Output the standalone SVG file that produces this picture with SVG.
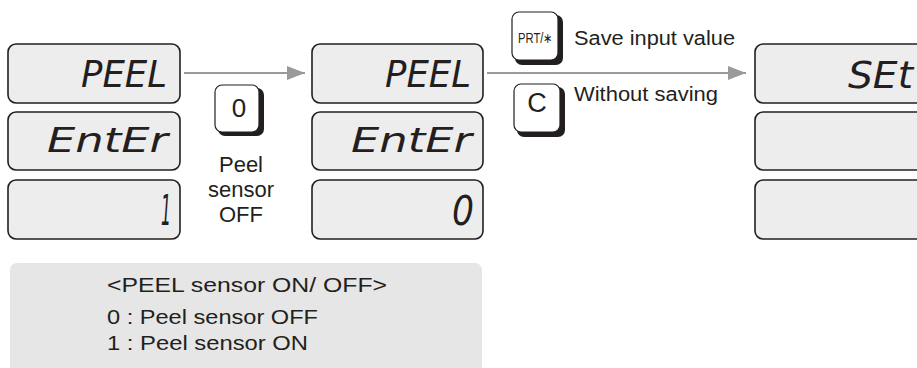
<svg xmlns="http://www.w3.org/2000/svg" width="917" height="368" viewBox="0 0 917 368">
<defs>
<marker id="ah" viewBox="0 0 18 14" refX="18" refY="7" markerWidth="18" markerHeight="14" markerUnits="userSpaceOnUse" orient="auto">
<path d="M0,0 L18,7 L0,14 Z" fill="#9a9a9a"/>
</marker>
</defs>
<style>
.lcd{fill:#ededed;stroke:#231f20;stroke-width:1.6}
.seg{font-family:"DejaVu Sans","Liberation Sans",sans-serif;font-style:oblique;font-weight:200;fill:#231f20;text-anchor:end}
.key{fill:#fff;stroke:#231f20;stroke-width:1.2}
.ksh{fill:#231f20}
.lbl{font-family:"Liberation Sans",Arial,sans-serif;fill:#231f20}
.conn{stroke:#9a9a9a;stroke-width:2;fill:none}
</style>
<rect width="917" height="368" fill="#fff"/>
<g id="connectors">
<line class="conn" x1="184" y1="73" x2="305" y2="73" marker-end="url(#ah)"/>
<line class="conn" x1="487" y1="73" x2="746" y2="73" marker-end="url(#ah)"/>
</g>
<g id="display1">
<rect class="lcd" x="8" y="44" width="172" height="59" rx="8"/>
<rect class="lcd" x="8" y="112" width="172" height="58" rx="8"/>
<rect class="lcd" x="8" y="180" width="172" height="59" rx="8"/>
<text class="seg" x="167" y="87" font-size="37" textLength="86" lengthAdjust="spacingAndGlyphs">PEEL</text>
<text class="seg" x="168" y="152" font-size="33" textLength="121" lengthAdjust="spacingAndGlyphs">EntEr</text>
<text class="seg" x="171" y="225" font-size="43" textLength="10" lengthAdjust="spacingAndGlyphs">1</text>
</g>
<g id="key0">
<rect class="ksh" x="218" y="88" width="46" height="48" rx="7"/>
<rect class="key" x="215" y="85" width="44" height="47" rx="7"/>
<text class="lbl" x="239" y="117" font-size="26" text-anchor="middle">0</text>
</g>
<g id="label-peel-off" class="lbl" font-size="22" text-anchor="middle">
<text x="241" y="172">Peel</text>
<text x="241" y="197">sensor</text>
<text x="241" y="222">OFF</text>
</g>
<g id="display2">
<rect class="lcd" x="312" y="44" width="171" height="59" rx="8"/>
<rect class="lcd" x="312" y="112" width="171" height="58" rx="8"/>
<rect class="lcd" x="312" y="180" width="171" height="59" rx="8"/>
<text class="seg" x="471" y="87" font-size="37" textLength="86" lengthAdjust="spacingAndGlyphs">PEEL</text>
<text class="seg" x="472" y="152" font-size="33" textLength="121" lengthAdjust="spacingAndGlyphs">EntEr</text>
<text class="seg" x="474" y="225" font-size="41" textLength="22" lengthAdjust="spacingAndGlyphs">0</text>
</g>
<g id="keyPRT">
<rect class="ksh" x="515" y="15" width="48" height="50" rx="7"/>
<rect class="key" x="512" y="12" width="46" height="48" rx="7"/>
<text class="lbl" x="518" y="43" font-size="14" textLength="35" lengthAdjust="spacingAndGlyphs">PRT/∗</text>
</g>
<text id="label-save" class="lbl" x="574" y="45" font-size="19.5" textLength="161" lengthAdjust="spacingAndGlyphs">Save input value</text>
<g id="keyC">
<rect class="ksh" x="517" y="87" width="48" height="50" rx="7"/>
<rect class="key" x="514" y="84" width="46" height="48" rx="7"/>
<text class="lbl" x="537" y="112" font-size="27" text-anchor="middle">C</text>
</g>
<text id="label-without" class="lbl" x="574" y="101" font-size="19.5" textLength="144" lengthAdjust="spacingAndGlyphs">Without saving</text>
<g id="display3">
<rect class="lcd" x="755" y="44" width="175" height="59" rx="8"/>
<rect class="lcd" x="755" y="112" width="175" height="58" rx="8"/>
<rect class="lcd" x="755" y="180" width="175" height="59" rx="8"/>
<text class="seg" x="913" y="88" font-size="38" textLength="65" lengthAdjust="spacingAndGlyphs">SEt</text>
</g>
<g id="legend">
<rect x="10" y="263" width="472" height="120" rx="7" fill="#e6e6e6"/>
<g class="lbl" font-size="20">
<text x="107" y="292" textLength="280" lengthAdjust="spacingAndGlyphs">&lt;PEEL sensor ON/ OFF&gt;</text>
<text x="107" y="324" textLength="211" lengthAdjust="spacingAndGlyphs">0 : Peel sensor OFF</text>
<text x="107" y="350" textLength="201" lengthAdjust="spacingAndGlyphs">1 : Peel sensor ON</text>
</g>
</g>
</svg>
